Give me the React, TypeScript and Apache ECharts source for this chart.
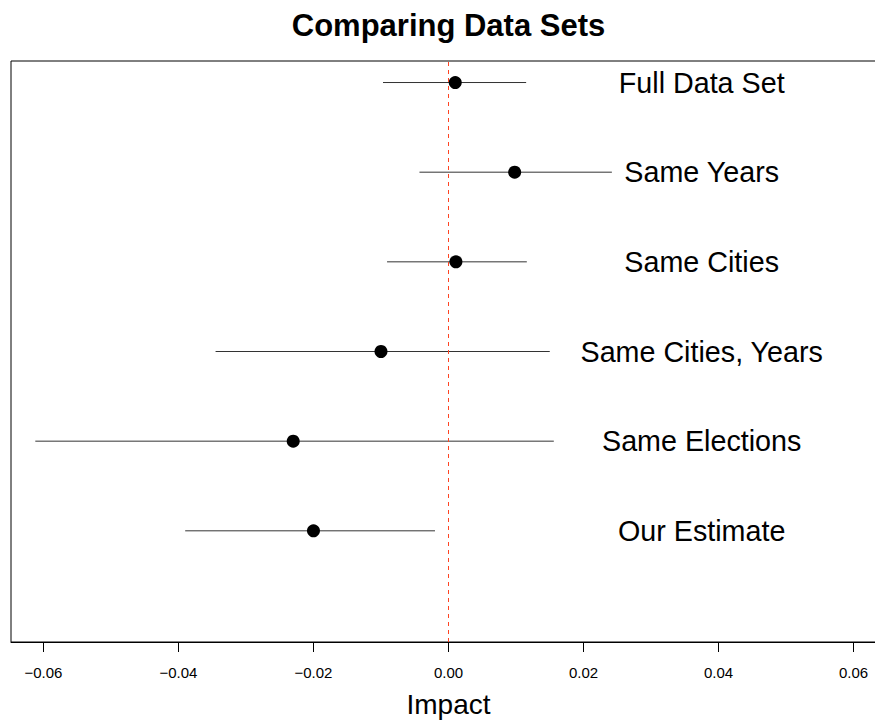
import React, { useEffect, useRef } from "react";
import * as echarts from "echarts";

const labels = ["Full Data Set", "Same Years", "Same Cities", "Same Cities, Years", "Same Elections", "Our Estimate"];
const estimates = [0.001, 0.0098, 0.0011, -0.01, -0.023, -0.02];
const lower = [-0.0097, -0.0043, -0.0091, -0.0345, -0.0612, -0.039];
const upper = [0.0115, 0.0242, 0.0116, 0.015, 0.0156, -0.002];
const rowPos = [6, 5, 4, 3, 2, 1];
const labelX = 0.0375;
const xTicks = [-0.06, -0.04, -0.02, 0, 0.02, 0.04, 0.06];
const xRange = [-0.0648, 0.0648];
const yRange = [-0.24, 6.24];

const FONT = "'Liberation Sans', Arial, Helvetica, sans-serif";

export default function App() {
  const ref = useRef<HTMLDivElement>(null);
  useEffect(() => {
    if (!ref.current) return;
    const chart = echarts.init(ref.current, null, { renderer: "svg" });
    const barData = labels.map((_, i) => [lower[i], upper[i], rowPos[i]]);
    const pointData = labels.map((_, i) => [estimates[i], rowPos[i]]);
    const labelData = labels.map((name, i) => ({ name, value: [labelX, rowPos[i]] }));
    chart.setOption({
      animation: false,
      backgroundColor: "#ffffff",
      textStyle: { fontFamily: FONT },
      graphic: [
        {
          type: "text",
          x: 448.5,
          y: 25,
          style: {
            text: "Comparing Data Sets",
            fontSize: 31,
            fontWeight: "bold",
            fontFamily: FONT,
            fill: "#000",
            textAlign: "center",
            textVerticalAlign: "middle",
          },
        },
      ],
      grid: {
        left: 11,
        right: -11,
        top: 61,
        bottom: 81,
        show: true,
        borderColor: "#000",
        borderWidth: 1,
        containLabel: false,
        outerBoundsMode: "none",
      },
      xAxis: {
        type: "value",
        min: xRange[0],
        max: xRange[1],
        name: "Impact",
        nameLocation: "middle",
        nameGap: 48,
        nameTextStyle: { fontSize: 28, color: "#000", fontFamily: FONT },
        axisLine: { show: true, onZero: false, lineStyle: { color: "#000", width: 1 } },
        axisTick: { show: true, length: 10, inside: false, customValues: xTicks, lineStyle: { color: "#000", width: 1 } },
        axisLabel: {
          show: true,
          customValues: xTicks,
          margin: 23,
          fontSize: 15,
          color: "#000",
          fontFamily: FONT,
          formatter: (v: number) => v.toFixed(2).replace("-", "\u2212"),
        },
        splitLine: { show: false },
      },
      yAxis: {
        type: "value",
        min: yRange[0],
        max: yRange[1],
        show: false,
        splitLine: { show: false },
      },
      series: [
        {
          type: "custom",
          data: barData,
          encode: { x: [0, 1], y: 2 },
          renderItem: (_params: any, api: any) => {
            const p1 = api.coord([api.value(0), api.value(2)]);
            const p2 = api.coord([api.value(1), api.value(2)]);
            return {
              type: "line",
              shape: { x1: p1[0], y1: p1[1], x2: p2[0], y2: p2[1] },
              style: { stroke: "#333333", lineWidth: 1 },
            };
          },
          silent: true,
        },
        {
          type: "scatter",
          data: pointData,
          symbol: "circle",
          symbolSize: 13,
          itemStyle: { color: "#000", opacity: 1 },
          markLine: {
            silent: true,
            symbol: "none",
            label: { show: false },
            lineStyle: { color: "#FF4422", type: [4, 4], width: 1 },
            data: [{ xAxis: 0 }],
          },
        },
        {
          type: "scatter",
          data: labelData,
          symbolSize: 1,
          itemStyle: { color: "rgba(0,0,0,0)", opacity: 1 },
          label: {
            show: true,
            position: "inside",
            formatter: (p: any) => p.name,
            fontSize: 28.7,
            color: "#000",
            opacity: 1,
            fontFamily: FONT,
          },
          silent: true,
        },
      ],
    });
    return () => chart.dispose();
  }, []);
  return (
    <div
      ref={ref}
      style={{ position: "fixed", left: 0, top: 0, width: 875, height: 723, background: "#fff" }}
    />
  );
}
